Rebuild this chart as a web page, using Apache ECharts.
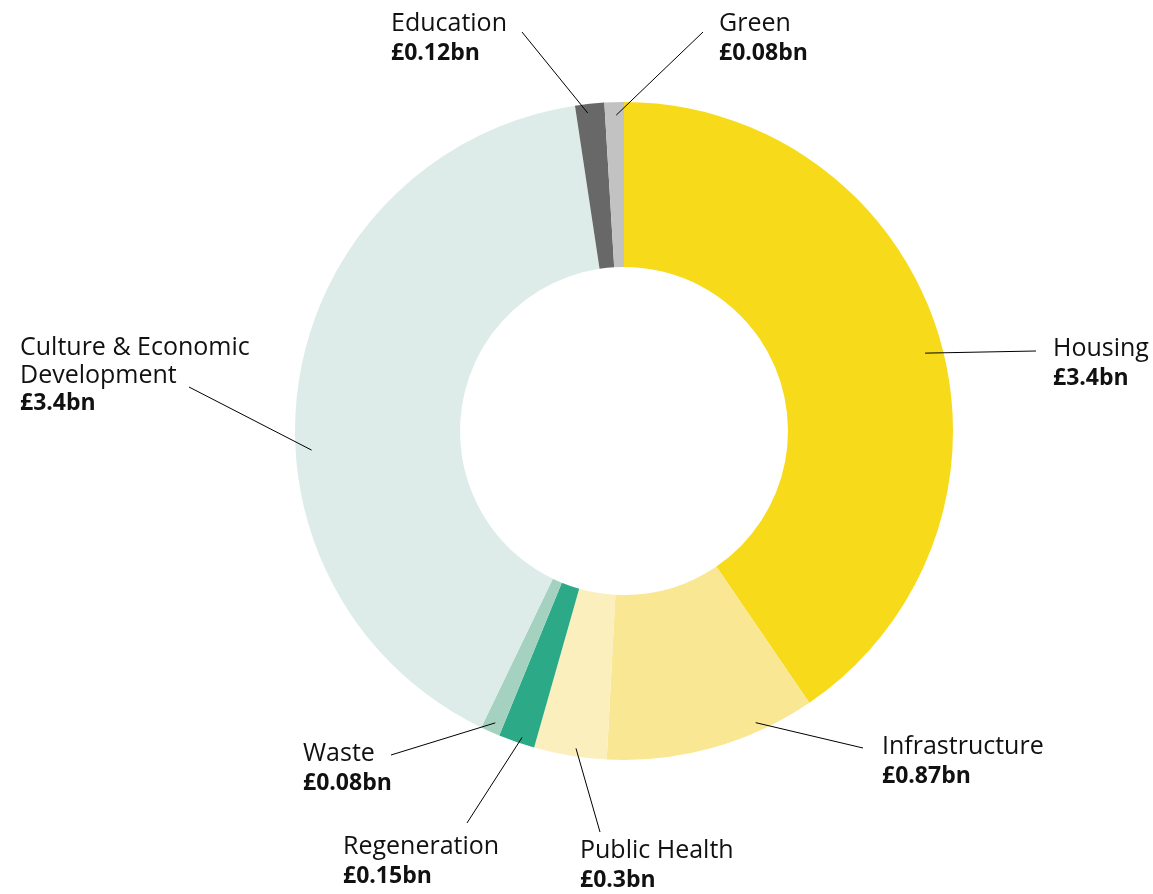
<!DOCTYPE html>
<html><head><meta charset="utf-8">
<script src="https://cdn.jsdelivr.net/npm/echarts@6/dist/echarts.min.js"></script>
<style>html,body{margin:0;padding:0;background:#fff}#c{width:1153px;height:894px}</style>
</head><body><div id="c"></div>
<script>
const categories = ['Housing','Infrastructure','Public Health','Regeneration','Waste','Culture & Economic Development','Education','Green'];
const labelNames = ['Housing','Infrastructure','Public Health','Regeneration','Waste','Culture & Economic\nDevelopment','Education','Green'];
const values = [3.4, 0.87, 0.3, 0.15, 0.08, 3.4, 0.12, 0.08];
const colors = ['#F7DA1A','#F9E793','#FCEFBE','#2CAA88','#A5D2C0','#DDECE8','#686868','#C2C2C2'];

// layout of annotations (positions only)
const CX = 624, CY = 431;
const labelBoxes = [[1053,335],[882,733],[580,837],[343,833],[303,740],[20,334],[391,10],[719,10]];
const lineEnds = [[1036,351],[863,748],[600,832],[467,823],[391,755],[189,387],[522,32],[703,32]];
const lineAnchors = [[75.5,311],[155.7,320],[188.6,321],[198.4,323],[203.8,319],[266.5,313],[353.5,320],[358.6,316]];

const ringData = categories.map((c, i) => ({name: c, value: values[i], itemStyle: {color: colors[i]}}));

const leaderLines = lineAnchors.map((an, i) => {
  const a = an[0] * Math.PI / 180, r = an[1];
  const s = [CX + r * Math.sin(a), CY - r * Math.cos(a)];
  return {
    type: 'polyline', silent: true, z: 100,
    shape: {points: [s, lineEnds[i]]},
    style: {stroke: '#000', lineWidth: 1, fill: null}
  };
});

const chart = echarts.init(document.getElementById('c'), null, {renderer:'canvas'});
chart.setOption({
  animation: false,
  backgroundColor: '#ffffff',
  graphic: {elements: leaderLines},
  series: [{
    type: 'pie',
    center: [CX, CY],
    radius: [164, 329],
    startAngle: 90,
    clockwise: true,
    silent: true,
    data: ringData,
    label: {
      show: true,
      position: 'outside',
      formatter: p => '{n|' + labelNames[p.dataIndex] + '}\n{' + (labelNames[p.dataIndex].indexOf('\n') >= 0 ? 'vc' : 'v') + '|£' + values[p.dataIndex] + 'bn}',
      rich: {
        n: {fontFamily: 'Open Sans', fontSize: 25, color: '#111', lineHeight: 28},
        v: {fontFamily: 'Open Sans', fontSize: 23, fontWeight: 'bold', color: '#111', lineHeight: 30},
        vc: {fontFamily: 'Open Sans', fontSize: 23, fontWeight: 'bold', color: '#111', lineHeight: 26}
      }
    },
    labelLine: {show: false},
    labelLayout: function (params) {
      const i = params.dataIndex;
      return {x: labelBoxes[i][0], y: labelBoxes[i][1], align: 'left', verticalAlign: 'top'};
    }
  }]
});
</script></body></html>
